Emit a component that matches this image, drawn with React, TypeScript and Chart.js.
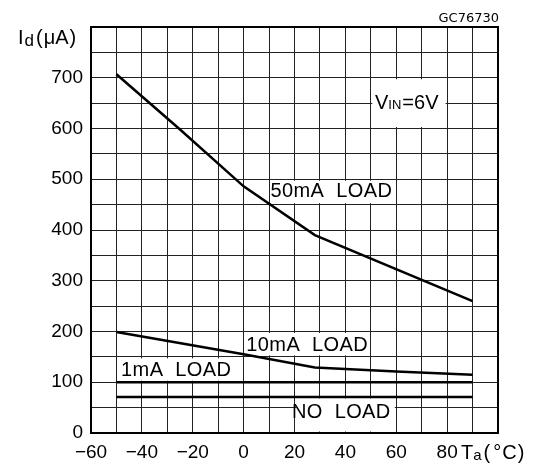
import React, { useEffect, useRef } from "react";
import { Chart, registerables } from "chart.js";

Chart.register(...registerables);

// ---- data ----
const tempLoad50 = [-50, -25, 0, 28, 90];
const idLoad50 = [707, 598, 486, 390, 260];
const tempLoad10 = [-50, 0, 28, 60, 90];
const idLoad10 = [199, 155, 129, 121, 115];
const tempLoad1 = [-50, 90];
const idLoad1 = [100, 100];
const tempNoLoad = [-50, 90];
const idNoLoad = [71, 71];

const xMin = -60;
const xMax = 100;
const yMin = 0;
const yMax = 800;
const xLabelStep = 20;
const yLabelStep = 100;

const FONT = "'Liberation Sans', Arial, sans-serif";

const pts = (xs: number[], ys: number[]) => xs.map((x, i) => ({ x, y: ys[i] }));

const fmt = (v: number) => (v < 0 ? "\u2212" + Math.abs(v) : String(v));

type Box = { x0: number; x1: number; y0: number; y1: number; cx: number; cy: number; text: string };
const boxes: Box[] = [
  { x0: 10, x1: 60, y0: 450, y1: 500, cx: 34.5, cy: 475, text: "50mA  LOAD" },
  { x0: 0, x1: 50, y0: 150, y1: 200, cx: 25, cy: 173, text: "10mA  LOAD" },
  { x0: -50, x1: 0, y0: 100, y1: 150, cx: -26.5, cy: 124, text: "1mA  LOAD" },
  { x0: 20, x1: 60, y0: 0, y1: 71, cx: 38.4, cy: 40, text: "NO  LOAD" },
];

// draws pieces left to right: [text, fontSize, dy, gapAfter]
const flow = (ctx: any, x: number, base: number, parts: [string, number, number, number][]) => {
  for (const [t, size, dy, gap] of parts) {
    ctx.font = `${size}px ${FONT}`;
    ctx.fillText(t, x, base + dy);
    x += ctx.measureText(t).width + gap;
  }
};

const annotPlugin = {
  id: "annot",
  beforeDatasetsDraw(chart: any) {
    const { ctx, scales } = chart;
    const xs = scales.x;
    const ys = scales.y;
    ctx.save();
    ctx.fillStyle = "#fff";
    const all = [...boxes.map((b) => [b.x0, b.x1, b.y0, b.y1]), [50, 80, 600, 700]];
    for (const [x0, x1, y0, y1] of all) {
      const px0 = xs.getPixelForValue(x0) + 1.5;
      const px1 = xs.getPixelForValue(x1) - 1.5;
      const py0 = ys.getPixelForValue(y1) + 1.5;
      const py1 = ys.getPixelForValue(y0) - 1.5;
      ctx.fillRect(px0, py0, px1 - px0, py1 - py0);
    }
    ctx.restore();
  },
  afterDatasetsDraw(chart: any) {
    const { ctx, scales, chartArea } = chart;
    const xs = scales.x;
    const ys = scales.y;
    ctx.save();
    ctx.fillStyle = "#000";
    ctx.textBaseline = "middle";
    ctx.textAlign = "center";
    ctx.font = `20px ${FONT}`;
    try {
      (ctx as any).letterSpacing = "0.4px";
    } catch (e) {}
    for (const b of boxes) {
      ctx.fillText(b.text, xs.getPixelForValue(b.cx), ys.getPixelForValue(b.cy));
    }
    try {
      (ctx as any).letterSpacing = "0px";
    } catch (e) {}
    ctx.textBaseline = "alphabetic";
    ctx.textAlign = "left";
    // V_IN = 6V
    flow(ctx, 375, 108.5, [
      ["V", 20, 0, 0],
      ["IN", 13, 0.5, 1],
      ["=6V", 20, 0, 0],
    ]);
    // outer frame
    ctx.strokeStyle = "#000";
    ctx.lineWidth = 2;
    ctx.strokeRect(chartArea.left, chartArea.top, chartArea.right - chartArea.left, chartArea.bottom - chartArea.top);

    // y title I_d(μA)
    flow(ctx, 18, 43.5, [
      ["I", 20, 0, 1],
      ["d", 17, 2.5, 2],
      ["(", 20, 0, 1],
      ["\u03bcA", 20, 0, 1],
      [")", 20, 0, 0],
    ]);
    // x title T_a(°C)
    flow(ctx, 461, 458.5, [
      ["T", 20, 0, 0],
      ["a", 15, 1, 2],
      ["(", 20, 0, 3],
      ["\u00b0", 20, 0, 1],
      ["C", 20, 0, 1],
      [")", 20, 0, 0],
    ]);
    // code
    ctx.textAlign = "right";
    ctx.font = `13px 'DejaVu Sans', sans-serif`;
    ctx.fillText("GC76730", 499, 22);
    ctx.restore();
  },
};

export default function App() {
  const ref = useRef<HTMLCanvasElement | null>(null);
  useEffect(() => {
    if (!ref.current) return;
    const line = (data: any) => ({
      data,
      borderColor: "#000",
      borderWidth: 2.5,
      pointRadius: 0,
      fill: false,
      tension: 0,
    });
    const chart = new Chart(ref.current, {
      type: "line",
      data: {
        datasets: [
          line(pts(tempLoad50, idLoad50)),
          line(pts(tempLoad10, idLoad10)),
          line(pts(tempLoad1, idLoad1)),
          line(pts(tempNoLoad, idNoLoad)),
        ],
      },
      options: {
        animation: false,
        responsive: false,
        devicePixelRatio: 1,
        layout: { padding: { top: 27, right: 43, left: 0, bottom: 0 } },
        plugins: { legend: { display: false }, tooltip: { enabled: false } },
        scales: {
          x: {
            type: "linear",
            min: xMin,
            max: xMax,
            afterFit: (s: any) => {
              s.height = 34;
            },
            ticks: {
              stepSize: 10,
              autoSkip: false,
              maxRotation: 0,
              padding: 8,
              color: "#000",
              font: { family: FONT, size: 19 },
              callback: (v: any) => {
                const n = Number(v);
                return n % xLabelStep === 0 && n < xMax ? fmt(n) : "";
              },
            },
            grid: { color: "#222", lineWidth: 1, drawTicks: false },
            border: { color: "#000", width: 2 },
          },
          y: {
            type: "linear",
            min: yMin,
            max: yMax,
            afterFit: (s: any) => {
              s.width = 91;
            },
            ticks: {
              stepSize: 50,
              autoSkip: false,
              padding: 8,
              color: "#000",
              font: { family: FONT, size: 19 },
              callback: (v: any) => {
                const n = Number(v);
                return n % yLabelStep === 0 && n < yMax ? String(n) : "";
              },
            },
            grid: { color: "#222", lineWidth: 1, drawTicks: false },
            border: { color: "#000", width: 2 },
          },
        },
      },
      plugins: [annotPlugin],
    } as any);
    return () => chart.destroy();
  }, []);
  return (
    <div style={{ position: "fixed", left: 0, top: 0, width: 541, height: 467, background: "#fff" }}>
      <canvas ref={ref} width={541} height={467} style={{ width: 541, height: 467 }} />
    </div>
  );
}
